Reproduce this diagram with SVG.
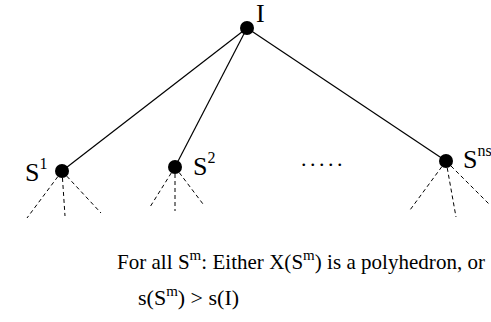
<svg xmlns="http://www.w3.org/2000/svg" width="491" height="322" viewBox="0 0 491 322">
<style>
.edge{stroke:#000;stroke-width:1.2;fill:none}
.dash{stroke:#000;stroke-width:1;fill:none;stroke-dasharray:4 3}
.dot{fill:#000}
.lbl{font-family:"Liberation Serif",serif;font-size:26px;fill:#000}
.sup{font-size:16px}
.txt{font-family:"Liberation Serif",serif;font-size:21px;fill:#000}
.sm{font-size:15px}
</style>
<rect width="491" height="322" fill="#fff"/>
<g id="connectors">
<line class="edge" x1="247" y1="28" x2="62" y2="171"/>
<line class="edge" x1="247" y1="28" x2="175" y2="167"/>
<line class="edge" x1="247" y1="28" x2="446" y2="161"/>
<line class="dash" x1="62" y1="171" x2="27" y2="218"/>
<line class="dash" x1="62" y1="171" x2="65" y2="216"/>
<line class="dash" x1="62" y1="171" x2="101" y2="213"/>
<line class="dash" x1="175" y1="167" x2="150" y2="207"/>
<line class="dash" x1="175" y1="167" x2="175" y2="211"/>
<line class="dash" x1="175" y1="167" x2="203" y2="204"/>
<line class="dash" x1="446" y1="161" x2="410" y2="210"/>
<line class="dash" x1="446" y1="161" x2="456" y2="217"/>
<line class="dash" x1="446" y1="161" x2="490" y2="205"/>
</g>
<g id="root">
<circle class="dot" cx="247" cy="28" r="7"/>
<text class="lbl" x="256" y="22">I</text>
</g>
<g id="s1">
<circle class="dot" cx="62" cy="171" r="7"/>
<text class="lbl" x="25" y="181">S<tspan class="sup" dy="-12">1</tspan></text>
</g>
<g id="s2">
<circle class="dot" cx="175" cy="167" r="7"/>
<text class="lbl" x="193" y="175">S<tspan class="sup" dy="-12">2</tspan></text>
</g>
<g id="ellipsis">
<text class="txt" x="301" y="166" style="font-size:22px;letter-spacing:3.5px">.....</text>
</g>
<g id="sns">
<circle class="dot" cx="446" cy="161" r="7"/>
<text class="lbl" x="463" y="168">S<tspan class="sup" dy="-12">ns</tspan></text>
</g>
<g id="caption">
<text class="txt" x="117" y="269" textLength="368" lengthAdjust="spacing">For all <tspan>S</tspan><tspan class="sm" dy="-9">m</tspan><tspan dy="9">: Either X(S</tspan><tspan class="sm" dy="-9">m</tspan><tspan dy="9">) is a polyhedron, or</tspan></text>
<text class="txt" x="138" y="305" style="font-size:22px">s(S<tspan class="sm" dy="-9">m</tspan><tspan dy="9">) &gt; s(I)</tspan></text>
</g>
</svg>
